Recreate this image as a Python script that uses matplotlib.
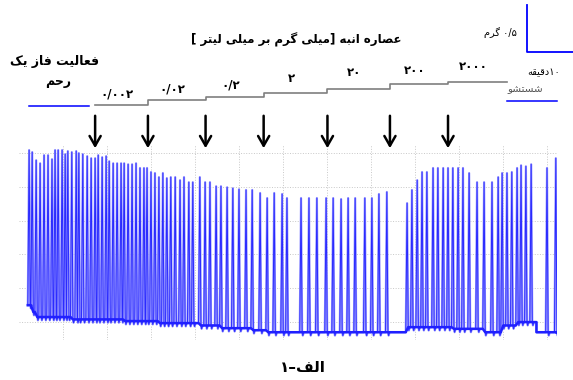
import re
import matplotlib
matplotlib.use("Agg")
import matplotlib.pyplot as plt
import matplotlib.transforms as mtransforms

plt.rcParams['font.family'] = ['DejaVu Sans']

# contraction peaks: time (min) and height (grid units)
peak_t = [2.3, 3.0, 3.9, 4.8, 5.7, 6.6, 7.5, 8.2, 8.9, 9.8, 10.5, 11.1, 12.0, 13.0,
          13.6, 14.5, 15.5, 16.4, 17.3, 18.0, 18.9, 19.8, 20.5, 21.4, 22.3, 23.2,
          23.9, 24.8, 25.7, 26.6, 27.5, 28.4, 29.1, 30.0, 30.9, 31.8, 32.7, 33.6,
          34.5, 35.5, 36.6, 37.5, 38.6, 39.5, 41.1, 42.3, 43.4, 44.8, 45.9, 47.3,
          48.6, 50.0, 51.6, 53.0, 54.8, 56.4, 58.0, 59.8, 60.9, 64.1, 65.9, 67.7,
          69.8, 71.4, 73.2, 74.8, 76.4, 78.6, 80.2, 81.8, 83.6, 88.2, 89.3, 90.5,
          91.6, 92.7, 94.1, 95.2, 96.4, 97.5, 98.6, 99.8, 100.9, 102.3, 104.1,
          105.7, 107.5, 108.9, 109.8, 110.9, 112.0, 113.2, 114.1, 115.2, 116.4,
          120.0, 122.0]
peak_v = [5.09, 5.03, 4.79, 4.70, 4.94, 4.94, 4.82, 5.09, 5.09, 5.09, 4.97, 5.06,
          5.03, 5.06, 5.00, 4.97, 4.91, 4.85, 4.85, 4.94, 4.88, 4.91, 4.76, 4.70,
          4.70, 4.70, 4.70, 4.67, 4.67, 4.70, 4.56, 4.56, 4.56, 4.44, 4.41, 4.29,
          4.41, 4.26, 4.29, 4.29, 4.20, 4.29, 4.14, 4.14, 4.29, 4.14, 4.14, 4.02,
          4.02, 3.99, 3.96, 3.93, 3.91, 3.91, 3.82, 3.67, 3.82, 3.79, 3.67, 3.67,
          3.67, 3.67, 3.67, 3.67, 3.64, 3.67, 3.67, 3.67, 3.67, 3.79, 3.85, 3.52,
          3.91, 4.20, 4.44, 4.44, 4.56, 4.56, 4.56, 4.56, 4.56, 4.56, 4.56, 4.41,
          4.14, 4.14, 4.14, 4.29, 4.41, 4.41, 4.44, 4.56, 4.64, 4.61, 4.67, 4.56,
          4.85]
# resting tone between contractions
base_end = [2.6, 4.0, 12.0, 24.0, 32.0, 40.0, 46.0, 52.0, 56.0, 88.0, 98.0,
            105.0, 110.0, 113.0, 117.6]
base_level = [0.5, 0.3, 0.15, 0.08, 0.03, -0.03, -0.1, -0.18, -0.24, -0.3, -0.15,
              -0.2, -0.3, -0.1, 0.0, -0.3]
trace_start, trace_end = 2.0, 122.2

# mango extract doses (mg/ml) and the times they were added
dose_t = [17.3, 29.3, 42.4, 55.6, 70.1, 84.3, 97.5]
dose_lbl = ['۰/۰۰۲', '۰/۰۲', '۰/۲', '۲', '۲۰', '۲۰۰', '۲۰۰۰']
wash_t = 110.9

title = 'عصاره انبه [میلی گرم بر میلی لیتر ]'
legend_lbl = ['فعالیت فاز یک', 'رحم']
scale_g = '۰/۵ گرم'
scale_min = '۱۰دقیقه'
wash_lbl = 'شستشو'
caption = 'الف–۱'

# --- minimal Persian shaping (matplotlib has no complex text layout)
DUAL = {'ب': 0xFE8F, 'ت': 0xFE95, 'ح': 0xFEA1, 'س': 0xFEB1, 'ش': 0xFEB5,
        'ص': 0xFEB9, 'ع': 0xFEC9, 'ف': 0xFED1, 'ق': 0xFED5, 'ل': 0xFEDD,
        'م': 0xFEE1, 'ن': 0xFEE5, 'ه': 0xFEE9, 'ی': 0xFBFC, 'ک': 0xFB8E,
        'گ': 0xFB92}
RIGHT = {'ا': 0xFE8D, 'د': 0xFEA9, 'ر': 0xFEAD, 'ز': 0xFEAF, 'و': 0xFEED}
MIRROR = {'[': ']', ']': '[', '(': ')', ')': '('}


def shape(s):
    out = []
    for i, c in enumerate(s):
        base = DUAL.get(c, RIGHT.get(c))
        if base is None:
            out.append(c)
            continue
        prev = s[i - 1] if i > 0 else ''
        nxt = s[i + 1] if i + 1 < len(s) else ''
        jp = prev in DUAL
        jn = c in DUAL and (nxt in DUAL or nxt in RIGHT)
        out.append(chr(base + {(0, 0): 0, (1, 0): 1, (0, 1): 2, (1, 1): 3}[(jp, jn)]))
    return ''.join(out)


def fa(s):
    runs = re.findall(r'[۰-۹0-9/]+|[^۰-۹0-9/]+', shape(s))
    vis = []
    for r in reversed(runs):
        if r[0] in '۰۱۲۳۴۵۶۷۸۹0123456789/':
            vis.append(r)
        else:
            vis.append(''.join(MIRROR.get(ch, ch) for ch in reversed(r)))
    return ''.join(vis)


def level_at(t):
    for e, lv in zip(base_end, base_level):
        if t < e:
            return lv
    return base_level[-1]


# --- build trace from the peaks (tone changes ride on the contractions)
rise, fall = 0.3, 0.25
xs, ys = [trace_start], [level_at(trace_start)]
bx, by = [trace_start], [level_at(trace_start)]
for i, (tp, vp) in enumerate(zip(peak_t, peak_v)):
    prev_t = peak_t[i - 1] if i else trace_start
    for e in base_end:
        # tone change inside a long pause (washout)
        if prev_t + fall < e < tp - rise - 1.0:
            xs += [e, e]
            ys += [level_at(e - 0.01), level_at(e)]
            bx += [e, e]
            by += [level_at(e - 0.01), level_at(e)]
    before = by[-1]
    after = level_at(tp + fall)
    xs += [tp - rise, tp, tp + fall, tp + fall + 0.15, tp + fall + 0.4]
    ys += [before, vp, after, after - 0.1, after]
    bx += [tp - rise, tp + fall]
    by += [before, after]
xs.append(trace_end)
ys.append(ys[-1])
bx.append(trace_end)
by.append(by[-1])

fig = plt.figure(figsize=(5.73, 3.8), dpi=100)
W, H = 573, 380

ax = fig.add_axes([19 / W, 40 / H, 537.7 / W, 195 / H])
ax.plot(xs, ys, color='#9d9dff', lw=1.6)
ax.plot(xs, ys, color='#2a2aff', lw=0.7)
ax.plot(bx, by, color='#2020ff', lw=1.8)
ax.set_xlim(0, 122.2)
ax.set_ylim(-0.53, 5.24)
ax.set_xticks(range(10, 121, 10))
ax.set_yticks(range(0, 6))
ax.grid(True, ls=':', color='#c8c8c8', lw=0.7)
ax.set_axisbelow(True)
ax.tick_params(length=0, labelbottom=False, labelleft=False)
for sp in ax.spines.values():
    sp.set_visible(False)

# overlay in pixel coordinates for the annotations
ov = fig.add_axes([0, 0, 1, 1], facecolor='none')
ov.set_xlim(0, W)
ov.set_ylim(H, 0)
ov.axis('off')
blend = mtransforms.blended_transform_factory(ax.transData, ov.transData)

# concentration staircase
step_y = [105, 100, 97, 93, 89, 84, 82]
ov.step(dose_t + [wash_t], step_y + [step_y[-1]], where='post',
        color='#7f7f7f', lw=1.2, transform=blend)
lbl_y = [94, 89, 85, 79, 73, 70, 67]
for i, lab in enumerate(dose_lbl):
    nxt = dose_t[i + 1] if i + 1 < len(dose_t) else wash_t
    ov.text((dose_t[i] + nxt) / 2 - 1, lbl_y[i], lab, transform=blend,
            ha='center', va='center', fontsize=8.5, fontweight='bold')
for t in dose_t:
    ov.annotate('', xy=(t, 151), xytext=(t, 113), xycoords=blend, textcoords=blend,
                arrowprops=dict(arrowstyle='->,head_length=0.7,head_width=0.4',
                                color='black', lw=1.8))

ov.text(296, 40, fa(title), ha='center', va='center', fontsize=8.5, fontweight='bold')
ov.text(55, 62, fa(legend_lbl[0]), ha='center', va='center', fontsize=9, fontweight='bold')
ov.text(58, 81, fa(legend_lbl[1]), ha='center', va='center', fontsize=9, fontweight='bold')
ov.plot([29, 89], [106, 106], color='#0000ff', lw=1.1)

# scale bar
ov.plot([527, 527, 573], [5, 52, 52], color='#0000ff', lw=1.3)
ov.text(500, 33, fa(scale_g), ha='center', va='center', fontsize=7)
ov.text(544, 72, fa(scale_min), ha='center', va='center', fontsize=7)
ov.text(525, 89, fa(wash_lbl), ha='center', va='center', fontsize=7.5, color='#555555')
ov.plot([507, 557], [101, 101], color='#0000ff', lw=1.1)

ov.text(303, 367, fa(caption), ha='center', va='center', fontsize=11, fontweight='bold')

fig.savefig('out.png', dpi=100)
